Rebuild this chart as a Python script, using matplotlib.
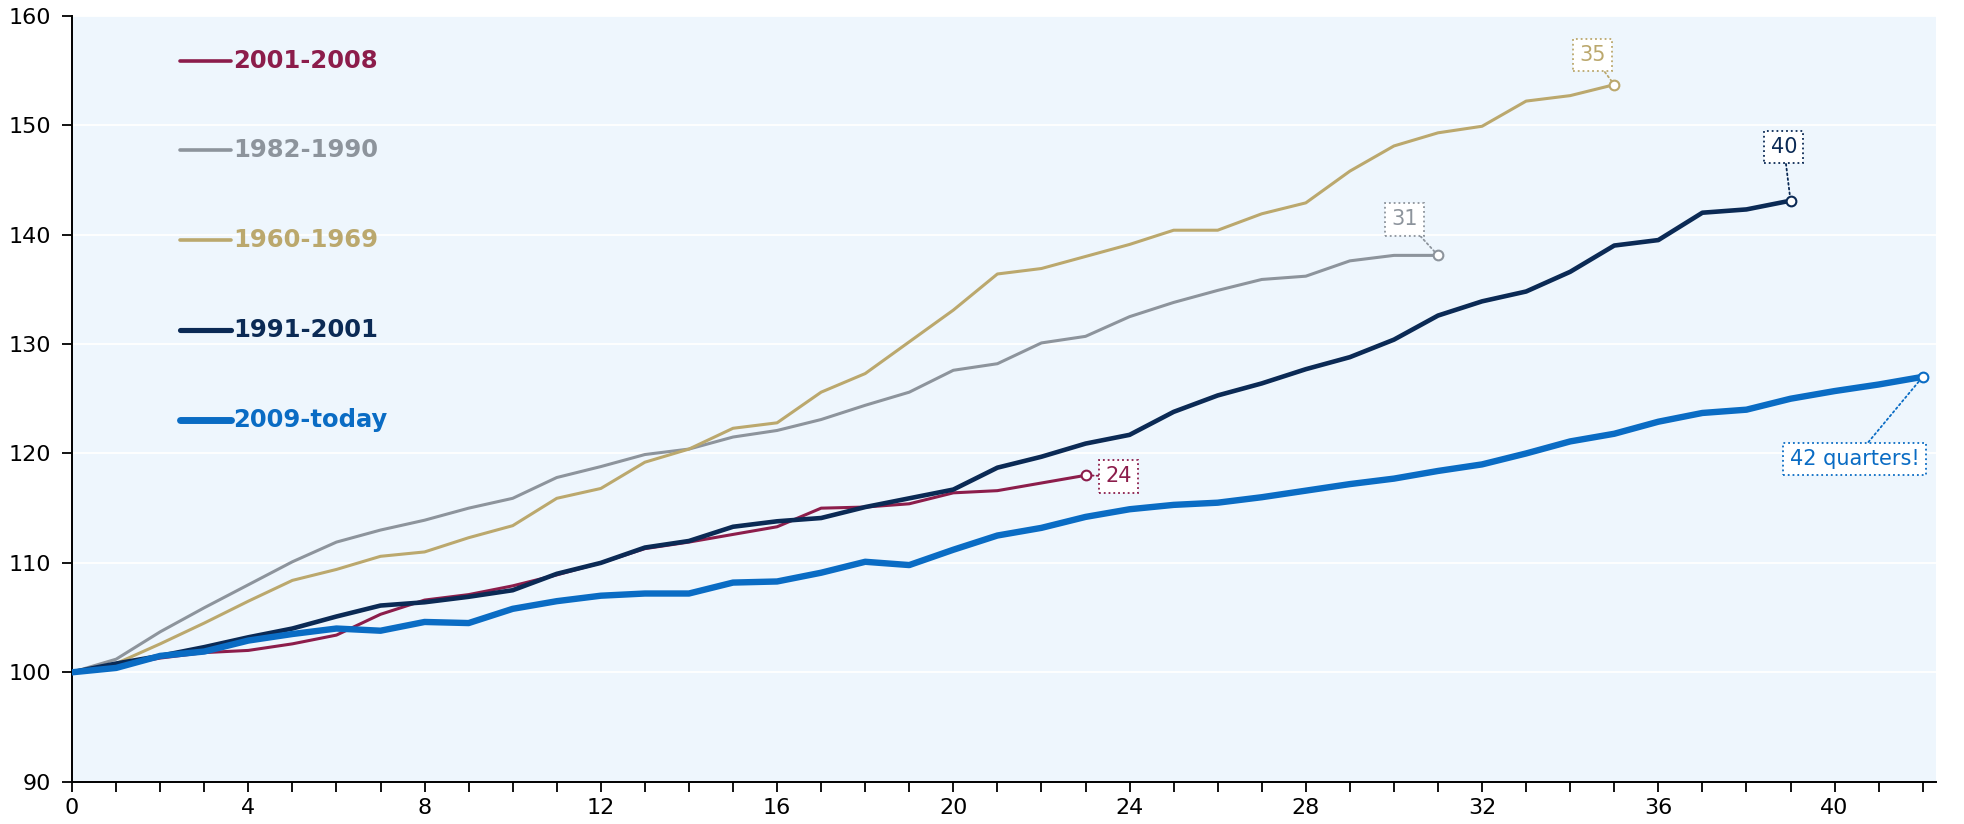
import numpy as np, matplotlib
matplotlib.use("Agg")
import matplotlib.pyplot as plt

plt.rcParams["font.family"] = ["DejaVu Sans"]

# index, start of expansion = 100, by quarter since trough
s_2001 = [100, 100.6, 101.3, 101.8, 102.0, 102.6, 103.4, 105.3, 106.6, 107.1, 107.9,
          108.9, 110.0, 111.3, 111.9, 112.6, 113.3, 115.0, 115.1, 115.4, 116.4, 116.6,
          117.3, 118.0]
s_1982 = [100, 101.2, 103.7, 105.9, 108.0, 110.1, 111.9, 113.0, 113.9, 115.0, 115.9,
          117.8, 118.8, 119.9, 120.4, 121.5, 122.1, 123.1, 124.4, 125.6, 127.6, 128.2,
          130.1, 130.7, 132.5, 133.8, 134.9, 135.9, 136.2, 137.6, 138.1, 138.1]
s_1960 = [100, 100.8, 102.6, 104.5, 106.5, 108.4, 109.4, 110.6, 111.0, 112.3, 113.4,
          115.9, 116.8, 119.2, 120.4, 122.3, 122.8, 125.6, 127.3, 130.2, 133.1, 136.4,
          136.9, 138.0, 139.1, 140.4, 140.4, 141.9, 142.9, 145.8, 148.1, 149.3, 149.9,
          152.2, 152.7, 153.7]
s_1991 = [100, 100.8, 101.5, 102.3, 103.2, 104.0, 105.1, 106.1, 106.4, 106.9, 107.5,
          109.0, 110.0, 111.4, 112.0, 113.3, 113.8, 114.1, 115.1, 115.9, 116.7, 118.7,
          119.7, 120.9, 121.7, 123.8, 125.3, 126.4, 127.7, 128.8, 130.4, 132.6, 133.9,
          134.8, 136.6, 139.0, 139.5, 142.0, 142.3, 143.1]
s_2009 = [100, 100.4, 101.5, 101.9, 102.9, 103.5, 104.0, 103.8, 104.6, 104.5, 105.8,
          106.5, 107.0, 107.2, 107.2, 108.2, 108.3, 109.1, 110.1, 109.8, 111.2, 112.5,
          113.2, 114.2, 114.9, 115.3, 115.5, 116.0, 116.6, 117.2, 117.7, 118.4, 119.0,
          120.0, 121.1, 121.8, 122.9, 123.7, 124.0, 125.0, 125.7, 126.3, 127.0]

names = ["2001-2008", "1982-1990", "1960-1969", "1991-2001", "2009-today"]
series = [s_2001, s_1982, s_1960, s_1991, s_2009]
colors = ["#8c1d4b", "#8d949c", "#bba86d", "#0b2a55", "#0a6cc4"]
widths = [2.2, 2.2, 2.2, 3.3, 4.6]
end_labels = ["24", "31", "35", "40", "42 quarters!"]
label_pos = [(23.75, 117.9), (30.25, 141.4), (34.5, 156.4), (38.85, 148.0), (40.45, 119.5)]
legend_y = [155.9, 147.7, 139.5, 131.3, 123.1]

fig = plt.figure(figsize=(19.64, 8.24), dpi=100)
ax = fig.add_axes([0.0367, 0.0513, 0.949, 0.9296])
ax.set_facecolor("#eef6fd")

for yy in range(100, 161, 10):
    ax.axhline(yy, color="white", lw=1.3, zorder=1)

for i, (nm, s, c, w) in enumerate(zip(names, series, colors, widths)):
    x = np.arange(len(s))
    ax.plot(x, s, color=c, lw=w, zorder=3 + i, solid_joinstyle="round")
    ax.plot(x[-1], s[-1], "o", ms=7, mfc="white", mec=c, mew=1.5, zorder=10)
    ax.annotate(end_labels[i], xy=(x[-1], s[-1]), xytext=label_pos[i],
                ha="center", va="center", color=c, fontsize=15, zorder=11,
                bbox=dict(boxstyle="square,pad=0.3", fc="white", ec=c, ls=":", lw=1.3),
                arrowprops=dict(arrowstyle="-", color=c, ls=":", lw=1.3,
                                shrinkA=0, shrinkB=3))
    # legend drawn in-plot
    ax.plot([2.45, 3.6], [legend_y[i]] * 2, color=c, lw=w + 0.4, solid_capstyle="round", zorder=5)
    ax.text(3.66, legend_y[i], nm, color=c, fontsize=17.5, fontweight="bold",
            va="center", ha="left")

ax.set_xlim(0, 42.3)
ax.set_ylim(90, 160)
ax.set_yticks(range(90, 161, 10))
ax.set_xticks(range(0, 43, 4))
ax.set_xticks(range(0, 43), minor=True)
ax.tick_params(axis="both", labelsize=16, direction="out", length=7, width=1.3, color="black")
ax.tick_params(axis="x", which="minor", length=7, width=1.3)
ax.tick_params(axis="x", pad=5)
ax.tick_params(axis="y", pad=8)
for sp in ["top", "right"]:
    ax.spines[sp].set_visible(False)
for sp in ["left", "bottom"]:
    ax.spines[sp].set_linewidth(1.4)

fig.savefig("out.png", dpi=100)
